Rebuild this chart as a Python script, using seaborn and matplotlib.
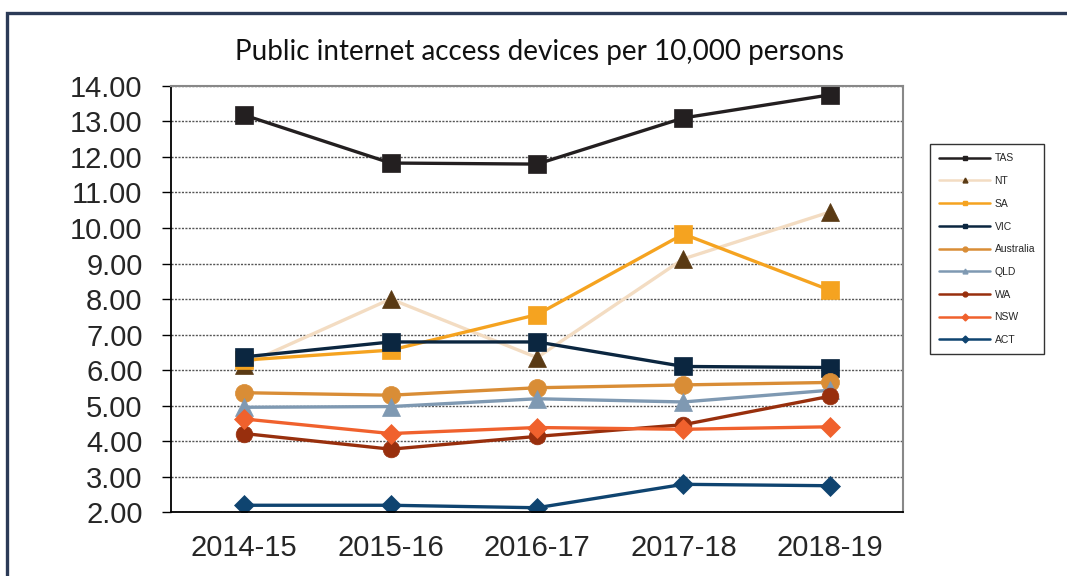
import numpy as np
import pandas as pd
import matplotlib.pyplot as plt
import matplotlib.patches as patches
from matplotlib.lines import Line2D
import seaborn as sns

# Values (devices per 10,000 persons)
years = ['2014-15', '2015-16', '2016-17', '2017-18', '2018-19']
tas = [13.18, 11.83, 11.80, 13.10, 13.75]
nt = [6.15, 8.00, 6.35, 9.13, 10.45]
sa = [6.28, 6.56, 7.56, 9.83, 8.25]
vic = [6.37, 6.79, 6.79, 6.10, 6.07]
australia = [5.36, 5.29, 5.50, 5.58, 5.65]
qld = [4.95, 4.97, 5.19, 5.10, 5.43]
wa = [4.21, 3.77, 4.13, 4.46, 5.26]
nsw = [4.62, 4.21, 4.38, 4.33, 4.40]
act = [2.19, 2.19, 2.12, 2.78, 2.74]

series = {
    'TAS': tas, 'NT': nt, 'SA': sa, 'VIC': vic, 'Australia': australia,
    'QLD': qld, 'WA': wa, 'NSW': nsw, 'ACT': act,
}

# line colour, marker, marker colour, marker size
styles = {
    'TAS': ('#231f20', 's', '#231f20', 13),
    'NT': ('#f3dcc2', '^', '#5a3a14', 13),
    'SA': ('#f5a320', 's', '#f5a320', 13),
    'VIC': ('#0b2640', 's', '#0b2640', 13),
    'Australia': ('#d98d36', 'o', '#d98d36', 13),
    'QLD': ('#7f99b2', '^', '#7f99b2', 13),
    'WA': ('#982f0d', 'o', '#982f0d', 12),
    'NSW': ('#f0612d', 'D', '#f0612d', 10),
    'ACT': ('#0f4470', 'D', '#0f4470', 10),
}

df = pd.DataFrame(series)
df['pos'] = np.arange(len(years))

sns.set_style('white')
plt.rcParams['font.family'] = ['Liberation Sans', 'DejaVu Sans']

fig = plt.figure(figsize=(10.67, 5.76), dpi=100)
ax = fig.add_axes([0.1603, 0.1111, 0.686, 0.7396])

for name in series:
    color, marker, mcolor, msize = styles[name]
    sns.lineplot(data=df, x='pos', y=name, ax=ax, color=color, linewidth=2.4,
                 marker=marker, markersize=msize, markerfacecolor=mcolor,
                 markeredgecolor=mcolor, markeredgewidth=0.5)

ax.set_xlim(-0.5, len(years) - 0.5)
ax.set_ylim(2, 14)
ax.set_xlabel('')
ax.set_ylabel('')

ax.set_yticks(np.arange(2, 15, 1))
ax.set_yticklabels([f'{v:.2f}' for v in np.arange(2, 15, 1)])
ax.yaxis.grid(True, linestyle=(0, (1.5, 1)), color='#555555', linewidth=1.0)
ax.set_axisbelow(True)

# tick marks between categories, labels at centres
ax.set_xticks(np.arange(-0.5, len(years), 1))
ax.set_xticklabels([])
ax.set_xticks(np.arange(len(years)), minor=True)
ax.set_xticklabels(years, minor=True)
ax.tick_params(axis='x', which='major', direction='out', length=6.5, width=1.2, color='black')
ax.tick_params(axis='x', which='minor', length=0, pad=16, labelsize=21)
ax.tick_params(axis='y', direction='out', length=6.5, width=1.0, color='black',
               pad=14, labelsize=21, left=True)

for side in ['left', 'bottom']:
    ax.spines[side].set_color('black')
    ax.spines[side].set_linewidth(1.3)
for side in ['top', 'right']:
    ax.spines[side].set_color('#888888')
    ax.spines[side].set_linewidth(1.5)

fig.text(0.506, 0.91, 'Public internet access devices per 10,000 persons',
         ha='center', va='center', fontsize=20, color='#111111',
         family=['Lato', 'DejaVu Sans'])

handles = []
for name in series:
    color, marker, mcolor, msize = styles[name]
    handles.append(Line2D([0], [0], color=color, linewidth=1.8, marker=marker,
                          markersize=3.5, markerfacecolor=mcolor, markeredgecolor=mcolor))
leg = fig.legend(handles, list(series.keys()), loc='upper left',
                 bbox_to_anchor=(0.8716, 0.75), fontsize=7.5, frameon=True,
                 fancybox=False, framealpha=1, edgecolor='#333333',
                 handlelength=4.9, handletextpad=0.4, labelspacing=1.22,
                 borderpad=0.9, borderaxespad=0)
leg.get_frame().set_linewidth(1.0)

# outer chart frame (open at right and bottom like the cropped original)
frame = patches.Rectangle((0.0066, -0.2), 1.3, 0.9774 + 0.2, transform=fig.transFigure,
                          fill=False, edgecolor='#2c3b57', linewidth=2.4, clip_on=False)
fig.patches.append(frame)

fig.savefig('out.png', dpi=100)
